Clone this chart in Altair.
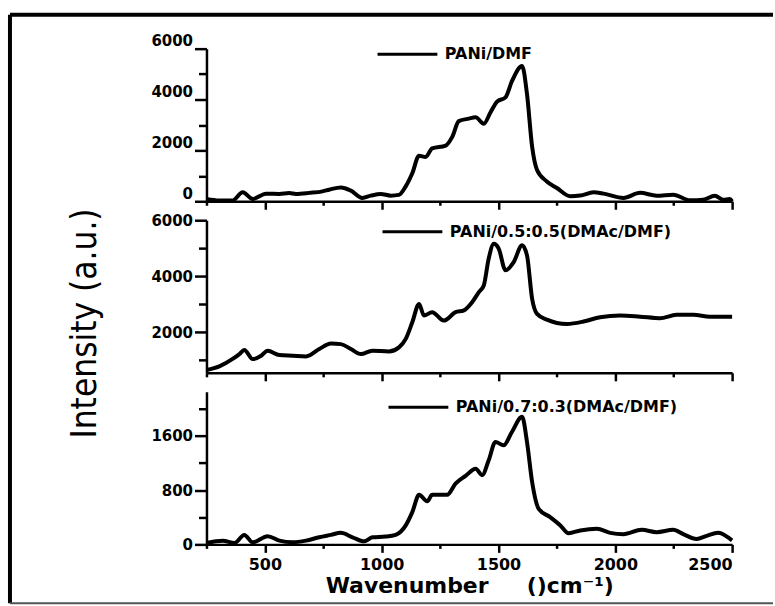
import altair as alt
import pandas as pd

# ---- data ----
names = ["PANi/DMF", "PANi/0.5:0.5(DMAc/DMF)", "PANi/0.7:0.3(DMAc/DMF)"]

x1 = [250, 305, 361, 405, 448, 505, 562, 604, 633, 690, 747, 775, 825, 868, 917, 953, 996, 1039,
      1074, 1103, 1131, 1160, 1188, 1216, 1274, 1302, 1330, 1373, 1402, 1437, 1466, 1494, 1530, 1558,
      1601, 1622, 1644, 1665, 1707, 1750, 1807, 1850, 1907, 1950, 2035, 2106, 2177, 2248, 2320,
      2376, 2426, 2461, 2490, 2500]
y1 = [90, 30, 30, 350, 90, 300, 290, 325, 290, 330, 390, 455, 545, 420, 130, 220, 290, 220,
      250, 585, 1100, 1790, 1740, 2080, 2190, 2530, 3150, 3250, 3300, 3050, 3500, 3920, 4085, 4730,
      5320, 4215, 2140, 1230, 780, 520, 195, 225, 350, 300, 130, 330, 220, 260, 40,
      60, 220, 60, 90, 0]

x2 = [250, 305, 362, 391, 412, 448, 484, 512, 562, 619, 676, 733, 783, 825, 868, 911, 960, 1031,
      1074, 1103, 1131, 1160, 1181, 1216, 1266, 1316, 1352, 1387, 1416, 1437, 1458, 1480, 1501,
      1530, 1565, 1601, 1622, 1644, 1665, 1707, 1793, 1864, 1935, 2021, 2106, 2191, 2262, 2334,
      2405, 2490, 2500]
y2 = [650, 780, 1045, 1220, 1365, 1040, 1160, 1340, 1185, 1160, 1135, 1400, 1600, 1575, 1400, 1220,
      1340, 1315, 1460, 1760, 2355, 3010, 2595, 2715, 2415, 2715, 2780, 3070, 3430, 3670, 4625,
      5160, 4985, 4210, 4505, 5105, 4745, 3190, 2655, 2450, 2295, 2380, 2535, 2595, 2555, 2500,
      2620, 2620, 2555, 2555, 2555]

x3 = [250, 320, 370, 412, 448, 512, 562, 619, 676, 733, 783, 825, 875, 925, 960, 1017, 1060, 1103,
      1131, 1160, 1195, 1216, 1280, 1316, 1359, 1402, 1430, 1458, 1487, 1522, 1558, 1601, 1622,
      1644, 1672, 1722, 1765, 1800, 1850, 1921, 1978, 2035, 2113, 2177, 2248, 2291, 2348, 2391,
      2440, 2490, 2500]
y3 = [20, 55, 20, 140, 30, 120, 55, 30, 55, 105, 140, 170, 105, 45, 105, 115, 140, 280,
      475, 730, 635, 730, 730, 895, 1010, 1115, 1020, 1240, 1510, 1460, 1660, 1880, 1510,
      920, 525, 400, 280, 165, 205, 230, 170, 150, 215, 180, 215, 150, 80, 125,
      170, 85, 60]

x_ticks = [250, 500, 750, 1000, 1250, 1500, 1750, 2000, 2250, 2500]
y_ticks_1 = [0, 1000, 2000, 3000, 4000, 5000, 6000]
y_ticks_2 = [1000, 2000, 3000, 4000, 5000, 6000]
y_ticks_3 = [0, 400, 800, 1200, 1600, 2000]

FONT = "DejaVu Sans"
TITLE_FONT = "'DejaVu Sans Condensed', 'Roboto Condensed', Roboto, sans-serif"
W, H = 527, 153


def make_panel(xs, ys, name, ydomain, yticks, ymajor, legend_xy, last=False,
               ytitle=None, label_baseline="middle"):
    df = pd.DataFrame({"wn": xs, "inten": ys, "series": name})
    x_axis = alt.Axis(
        values=x_ticks,
        format="d",
        labels=last,
        labelExpr="datum.value % 500 === 0 ? datum.label : ''",
        tickSize={"condition": {"test": "datum.value % 500 === 0", "value": 8}, "value": 4},
        labelFontSize=16, labelPadding=4,
        title="Wavenumber\u00a0\u00a0\u00a0\u00a0\u00a0()cm\u207b\u00b9)" if last else None,
        titleFontSize=22, titleFontWeight="bold", titleFont=FONT, titlePadding=3,
        titleColor="black",
    )
    yaxis_kw = dict(
        values=yticks,
        format="d",
        labelExpr=f"datum.value % {ymajor} === 0 ? datum.label : ''",
        tickSize={"condition": {"test": f"datum.value % {ymajor} === 0", "value": 12}, "value": 8},
        labelFontSize=15, labelPadding=2, labelBaseline=label_baseline,
        title=None,
    )
    if ytitle:
        yaxis_kw.update(
            title=ytitle, titleFont=TITLE_FONT, titleFontSize=35,
            titleFontWeight="normal", titleAngle=270, titleX=-111, titleY=103,
            titleAlign="center", titleBaseline="alphabetic", titleColor="black",
        )
    line = alt.Chart(df).mark_line(strokeWidth=4, interpolate="monotone").encode(
        x=alt.X("wn:Q", scale=alt.Scale(domain=[250, 2500], nice=False, zero=False), axis=x_axis),
        y=alt.Y("inten:Q", scale=alt.Scale(domain=ydomain, nice=False, zero=False),
                axis=alt.Axis(**yaxis_kw)),
        color=alt.Color("series:N", scale=alt.Scale(range=["black"]),
                        legend=alt.Legend(orient="none", legendX=legend_xy[0], legendY=legend_xy[1],
                                          title=None, symbolType="stroke", symbolSize=3600,
                                          symbolStrokeWidth=3, labelFont=FONT, labelFontSize=16,
                                          labelFontWeight="bold", labelColor="black",
                                          labelOffset=6, labelLimit=500, padding=0)),
    )
    return line.properties(width=W, height=H)


p1 = make_panel(x1, y1, names[0], [0, 6000], y_ticks_1, 2000, (170, -26), label_baseline="bottom")
p2 = make_panel(x2, y2, names[1], [550, 6000], y_ticks_2, 2000, (175, -20),
                ytitle="Intensity (a.u.)")
p3 = make_panel(x3, y3, names[2], [0, 2250], y_ticks_3, 800, (181, -16), last=True)

# decorative outer frame drawn in the first panel's coordinates
frame_df = pd.DataFrame({"k": [0]})
f_top = alt.Chart(frame_df).mark_rule(color="black", strokeWidth=4).encode(
    x=alt.value(-197), x2=alt.value(568), y=alt.value(-34))
f_left = alt.Chart(frame_df).mark_rule(color="black", strokeWidth=4).encode(
    x=alt.value(-197), y=alt.value(-34), y2=alt.value(556))
f_bottom = alt.Chart(frame_df).mark_rule(color="#555555", strokeWidth=2).encode(
    x=alt.value(-197), x2=alt.value(568), y=alt.value(556))

p1_full = alt.layer(p1, f_top, f_left, f_bottom)

chart = alt.vconcat(p1_full, p2, p3, spacing=19, bounds="flush").resolve_scale(
    color="independent", x="independent", y="independent"
).properties(
    padding={"left": 8, "top": 12, "right": 0, "bottom": 0},
    background="white",
).configure_view(stroke=None).configure_axis(
    domainColor="black", domainWidth=2.5, tickColor="black", tickWidth=2.5,
    labelFont=FONT, labelFontWeight="bold", labelColor="black", grid=False,
)

chart.save("out.html", embed_options={"renderer": "svg", "actions": False})
